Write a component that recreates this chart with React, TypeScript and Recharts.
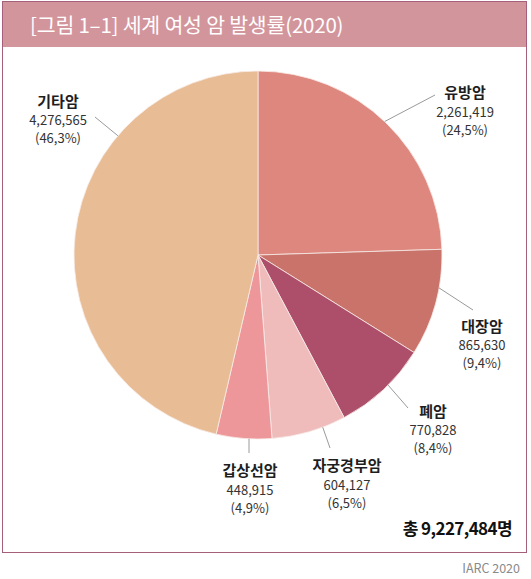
import React from "react";
import { PieChart, Pie, Cell } from "recharts";

const categories = ["유방암", "대장암", "폐암", "자궁경부암", "갑상선암", "기타암"];
const counts = [2261419, 865630, 770828, 604127, 448915, 4276565];
const percents = ["24,5%", "9,4%", "8,4%", "6,5%", "4,9%", "46,3%"];
const colors = ["#de877e", "#c9736a", "#ad4e6b", "#efbcbb", "#ee979b", "#e8bc94"];
const totalLabel = "총 9,227,484명";
const titleText = "[그림 1–1] 세계 여성 암 발생률(2020)";
const sourceText = "IARC 2020";

// label layout: leader start angle (deg), leader end offset, label centre offset (from pie centre)
const labelLayout = [
  { a: 46.5, ex: 177, ey: -160, lx: 207, ly: -163.5 },
  { a: -10.3, ex: 215, ey: 55, lx: 224, ly: 70 },
  { a: -45, ex: 150, ey: 153, lx: 175, ly: 155 },
  { a: -69.4, ex: 72, ey: 193, lx: 89, ly: 209.5 },
  { a: -92.8, ex: -9, ey: 198, lx: -8, ly: 214.5 },
  { a: 139.6, ex: -163, ey: -138, lx: -200, ly: -155 },
];

const data = categories.map((name, i) => ({ name, value: counts[i], pct: percents[i] }));

const FONT = '"Noto Sans CJK KR", "Noto Sans", sans-serif';

const renderLabel = (props: any) => {
  const { cx, cy, outerRadius, index } = props;
  const L = labelLayout[index];
  const rad = (L.a * Math.PI) / 180;
  const sx = cx + outerRadius * Math.cos(rad);
  const sy = cy - outerRadius * Math.sin(rad);
  const x = cx + L.lx;
  const y = cy + L.ly;
  return (
    <g key={`lbl-${index}`}>
      <line x1={sx} y1={sy} x2={cx + L.ex} y2={cy + L.ey} stroke="#9a9a9a" strokeWidth={1} />
      <text x={x} y={y} textAnchor="middle" dominantBaseline="central" fontFamily={FONT} fontSize={15} fontWeight={700} fill="#1e1e1e">
        {data[index].name}
      </text>
      <text x={x} y={y + 19.5} textAnchor="middle" dominantBaseline="central" fontFamily={FONT} fontSize={13} fill="#333">
        {data[index].value.toLocaleString("en-US")}
      </text>
      <text x={x} y={y + 37.5} textAnchor="middle" dominantBaseline="central" fontFamily={FONT} fontSize={13} fill="#333">
        ({data[index].pct})
      </text>
    </g>
  );
};

export default function App() {
  return (
    <div style={{ position: "absolute", left: 0, top: 0, width: 531, height: 579, background: "#fff", fontFamily: FONT }}>
      <div
        style={{
          position: "absolute",
          left: 2,
          top: 1,
          width: 523,
          height: 550,
          border: "1.5px solid #a65f7b",
          boxSizing: "content-box",
        }}
      >
        <div
          style={{
            height: 45,
            background: "#d3959c",
            color: "#fff",
            fontSize: 20.5,
            letterSpacing: -0.2,
            lineHeight: "45px",
            paddingLeft: 27,
            boxSizing: "border-box",
          }}
        >
          {titleText}
        </div>
      </div>
      <div style={{ position: "absolute", left: 0, top: 0 }}>
        <PieChart width={531} height={579} margin={{ top: 0, right: 0, bottom: 0, left: 0 }}>
          <Pie
            data={data}
            dataKey="value"
            nameKey="name"
            cx={258}
            cy={255}
            outerRadius={184}
            innerRadius={0}
            startAngle={90}
            endAngle={-270}
            stroke="#f8ece8"
            strokeWidth={0.8}
            label={renderLabel}
            labelLine={false}
            isAnimationActive={false}
          >
            {data.map((d, i) => (
              <Cell key={d.name} fill={colors[i]} />
            ))}
          </Pie>
        </PieChart>
      </div>
      <div style={{ position: "absolute", right: 19, top: 516, fontSize: 17, fontWeight: 700, letterSpacing: -0.6, color: "#111", lineHeight: "24px" }}>
        {totalLabel}
      </div>
      <div style={{ position: "absolute", right: 11, top: 559, fontSize: 12.5, color: "#8a8a8a", lineHeight: "18px" }}>
        {sourceText}
      </div>
    </div>
  );
}
